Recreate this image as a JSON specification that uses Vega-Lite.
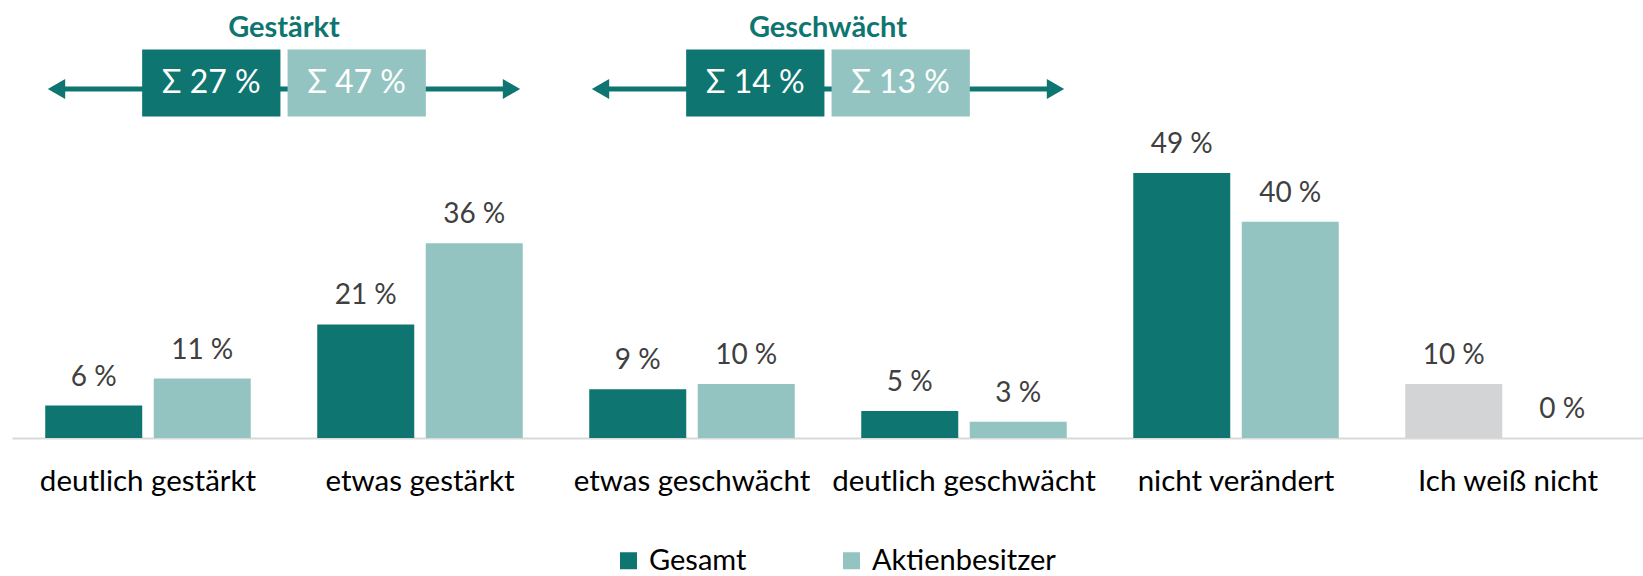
{
  "$schema": "https://vega.github.io/schema/vega-lite/v6.json",
  "width": 1632,
  "height": 438,
  "autosize": {"type": "none"},
  "padding": {"left": 12, "top": 0, "right": 0, "bottom": 138},
  "background": "white",
  "config": {"view": {"stroke": null}, "font": "Lato"},
  "datasets": {
    "bars": [
      {"cat": "deutlich gestärkt", "series": "Gesamt", "value": 6},
      {"cat": "deutlich gestärkt", "series": "Aktienbesitzer", "value": 11},
      {"cat": "etwas gestärkt", "series": "Gesamt", "value": 21},
      {"cat": "etwas gestärkt", "series": "Aktienbesitzer", "value": 36},
      {"cat": "etwas geschwächt", "series": "Gesamt", "value": 9},
      {"cat": "etwas geschwächt", "series": "Aktienbesitzer", "value": 10},
      {"cat": "deutlich geschwächt", "series": "Gesamt", "value": 5},
      {"cat": "deutlich geschwächt", "series": "Aktienbesitzer", "value": 3},
      {"cat": "nicht verändert", "series": "Gesamt", "value": 49},
      {"cat": "nicht verändert", "series": "Aktienbesitzer", "value": 40},
      {"cat": "Ich weiß nicht", "series": "Gesamt", "value": 10},
      {"cat": "Ich weiß nicht", "series": "Aktienbesitzer", "value": 0}
    ],
    "groups": [{"side": "Gestärkt"}, {"side": "Geschwächt"}],
    "sums": [
      {"side": "Gestärkt", "series": "Gesamt", "sum": 27},
      {"side": "Gestärkt", "series": "Aktienbesitzer", "sum": 47},
      {"side": "Geschwächt", "series": "Gesamt", "sum": 14},
      {"side": "Geschwächt", "series": "Aktienbesitzer", "sum": 13}
    ]
  },
  "layer": [
    {
      "data": {"name": "bars"},
      "encoding": {
        "x": {
          "field": "cat", "type": "nominal", "sort": null,
          "scale": {"paddingInner": 0.2445, "paddingOuter": 0.1222},
          "axis": {"title": null, "ticks": false, "domainColor": "#D9D9D9", "domainWidth": 2, "labelFontSize": 29.5, "labelColor": "#000000", "labelAngle": 0, "labelBaseline": "alphabetic", "labelPadding": 52, "labelFont": "Lato", "labelLimit": 400, "labelOverlap": false}
        },
        "xOffset": {"field": "series", "type": "nominal", "sort": ["Gesamt", "Aktienbesitzer"], "scale": {"paddingInner": 0.106, "paddingOuter": 0}},
        "y": {"field": "value", "type": "quantitative", "scale": {"domain": [0, 81], "nice": false}, "axis": null}
      },
      "layer": [
        {
          "mark": {"type": "bar"},
          "encoding": {
            "color": {
              "condition": {"test": "datum.cat === 'Ich weiß nicht'", "value": "#D3D4D6"},
              "field": "series", "type": "nominal",
              "scale": {"domain": ["Gesamt", "Aktienbesitzer"], "range": ["#0E7570", "#94C4C1"]},
              "legend": {"orient": "none", "legendX": 602, "legendY": 546, "direction": "horizontal", "title": null, "symbolType": "square", "symbolSize": 289, "labelFontSize": 29, "labelColor": "#000000", "labelFont": "Lato", "labelLimit": 400, "columnPadding": 90, "labelOffset": 6, "symbolStrokeWidth": 0, "symbolOpacity": 1}
            }
          }
        },
        {
          "transform": [{"calculate": "datum.value + ' %'", "as": "label"}],
          "mark": {"type": "text", "dy": -20, "baseline": "alphabetic", "fontSize": 28, "color": "#404040"},
          "encoding": {"text": {"field": "label"}}
        }
      ]
    },
    {
      "encoding": {
        "x": {"field": "side", "type": "nominal", "scale": {"domain": ["Gestärkt", "Geschwächt", "-"], "paddingInner": 0.1636, "paddingOuter": 0.0818}, "axis": null}
      },
      "layer": [
        {
          "data": {"name": "groups"},
          "mark": {"type": "text", "fontSize": 29, "fontWeight": "bold", "color": "#0E7570", "baseline": "alphabetic"},
          "encoding": {"y": {"datum": 74.21}, "text": {"field": "side"}}
        },
        {
          "data": {"name": "groups"},
          "mark": {"type": "bar", "color": "#0E7570"},
          "encoding": {"y": {"datum": 64.08}, "y2": {"datum": 65.0}}
        },
        {
          "data": {"name": "groups"},
          "mark": {"type": "point", "shape": "triangle-left", "size": 400, "filled": true, "opacity": 1, "color": "#0E7570"},
          "encoding": {"x": {"field": "side", "type": "nominal", "bandPosition": 0}, "y": {"datum": 64.54}}
        },
        {
          "data": {"name": "groups"},
          "mark": {"type": "point", "shape": "triangle-right", "size": 400, "filled": true, "opacity": 1, "color": "#0E7570"},
          "encoding": {"x": {"field": "side", "type": "nominal", "bandPosition": 1}, "y": {"datum": 64.54}}
        },
        {
          "data": {"name": "sums"},
          "mark": {"type": "bar"},
          "encoding": {
            "xOffset": {"field": "series", "type": "nominal", "sort": ["Gesamt", "Aktienbesitzer"], "scale": {"paddingInner": 0.049, "paddingOuter": 0.589}},
            "y": {"datum": 71.85}, "y2": {"datum": 59.46},
            "color": {"condition": {"test": "datum.series === 'Gesamt'", "value": "#0E7570"}, "value": "#94C4C1"}
          }
        },
        {
          "data": {"name": "sums"},
          "transform": [{"calculate": "'Σ ' + datum.sum + ' %'", "as": "label"}],
          "mark": {"type": "text", "fontSize": 32, "color": "#FFFFFF", "baseline": "alphabetic"},
          "encoding": {
            "xOffset": {"field": "series", "type": "nominal", "sort": ["Gesamt", "Aktienbesitzer"], "scale": {"paddingInner": 0.049, "paddingOuter": 0.589}},
            "y": {"datum": 63.75},
            "text": {"field": "label"}
          }
        }
      ]
    }
  ],
  "resolve": {"scale": {"x": "independent", "xOffset": "independent"}}
}
